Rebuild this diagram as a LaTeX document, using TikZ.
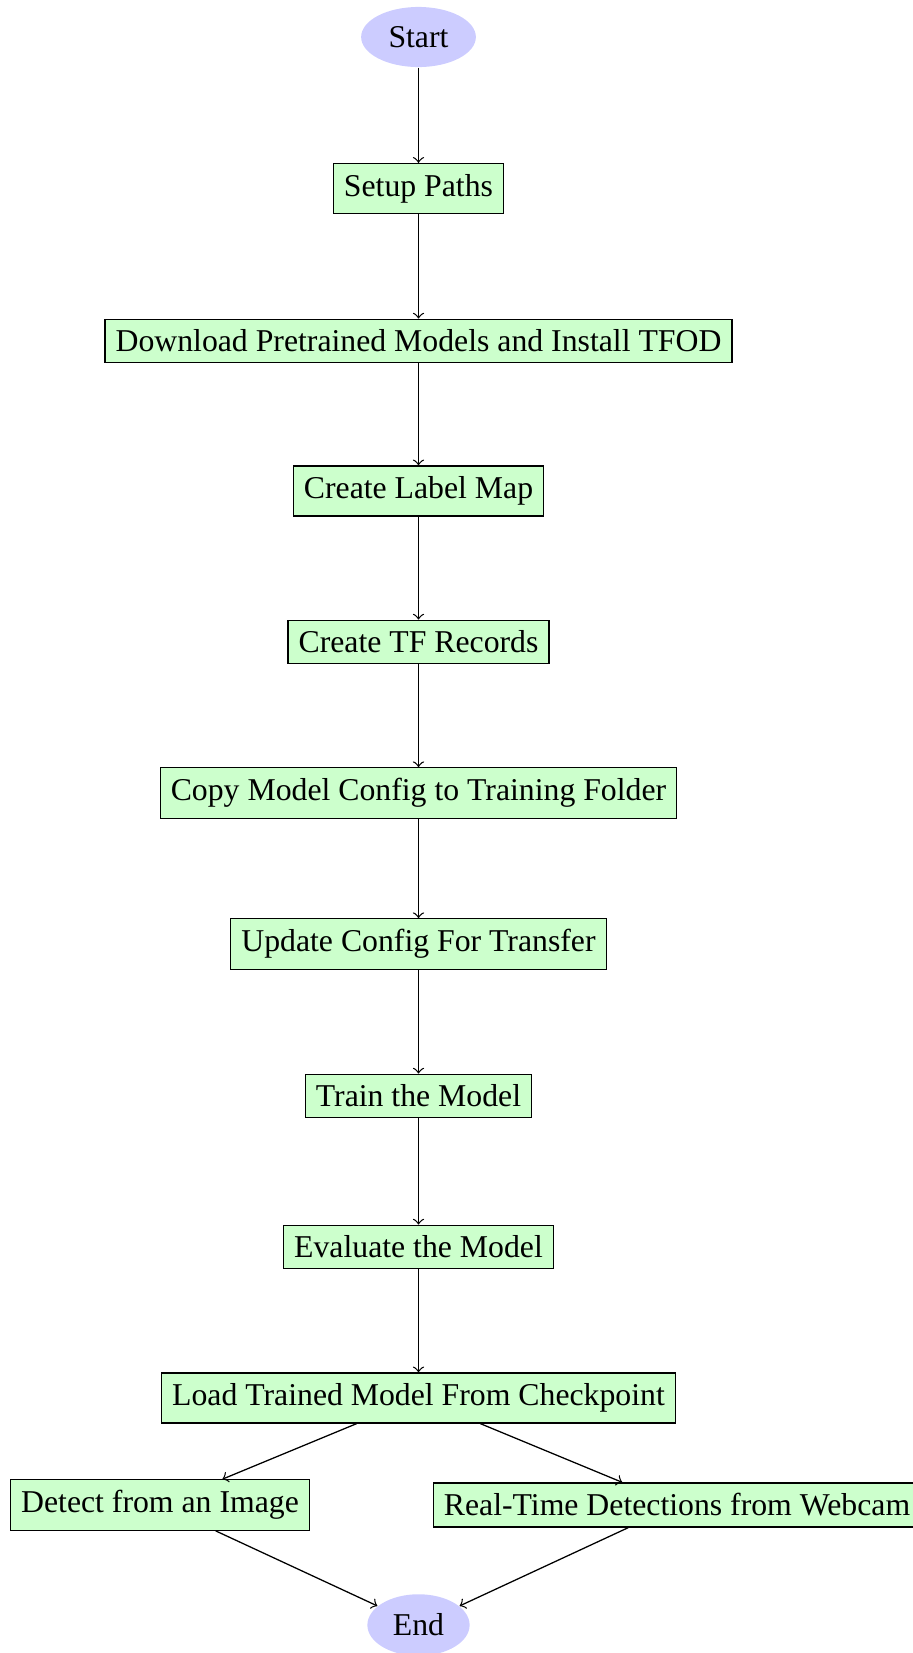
\documentclass[tikz,border=0pt]{standalone}
\usepackage{fontspec}
\setmainfont{Liberation Serif}
\usetikzlibrary{shapes.geometric}
\begin{document}
\begin{tikzpicture}[x=0.31496pt, y=-0.31496pt,
  terminal/.style={ellipse, fill=blue!20},
  process/.style={rectangle, draw, fill=green!20},
  flow/.style={->}]
\useasboundingbox (0,0) rectangle (913,1653);
% main column
\node[terminal] (start) at (418.5,37) {Start};
\node[process] (paths) at (418.5,188.5) {Setup Paths};
\node[process] (models) at (418.5,341) {Download Pretrained Models and Install TFOD};
\node[process] (labels) at (418.5,491) {Create Label Map};
\node[process] (records) at (418.5,642) {Create TF Records};
\node[process] (copy) at (418.5,793) {Copy Model Config to Training Folder};
\node[process] (update) at (418.5,944) {Update Config For Transfer};
\node[process] (train) at (418.5,1096) {Train the Model};
\node[process] (eval) at (418.5,1247) {Evaluate the Model};
\node[process] (load) at (418.5,1398) {Load Trained Model From Checkpoint};
% two detection branches
\node[process] (image) at (160,1505) {Detect from an Image};
\node[process] (webcam) at (677,1505) {Real-Time Detections from Webcam};
\node[terminal] (end) at (418.5,1625) {End};
% connectors
\draw[flow] (start) -- (paths);
\draw[flow] (paths) -- (models);
\draw[flow] (models) -- (labels);
\draw[flow] (labels) -- (records);
\draw[flow] (records) -- (copy);
\draw[flow] (copy) -- (update);
\draw[flow] (update) -- (train);
\draw[flow] (train) -- (eval);
\draw[flow] (eval) -- (load);
\draw[flow] (load) -- (image);
\draw[flow] (load) -- (webcam);
\draw[flow] (image) -- (end);
\draw[flow] (webcam) -- (end);
\end{tikzpicture}
\end{document}
